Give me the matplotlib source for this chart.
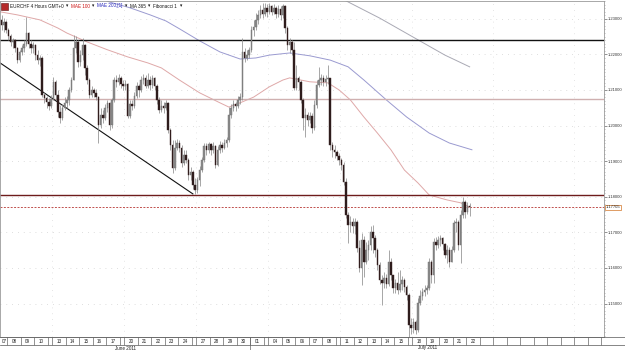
import numpy as np
import matplotlib.pyplot as plt
from matplotlib.patches import Rectangle
from matplotlib.ticker import MultipleLocator

plt.rcParams['font.family'] = ['Liberation Sans', 'DejaVu Sans']

# EURCHF 4 hour candles, 7 June - 22 July 2011
# candle slot 0 = first 4h candle of 7 June, sundays hold 2 candles
first_slot = 3
first_open = 1.2297
close = [
    1.2283, 1.2291, 1.2269, 1.2252, 1.2235, 1.2241, 1.2218, 1.2184, 1.2207, 1.2218,
    1.2229, 1.2260, 1.2229, 1.2218, 1.2227, 1.2198, 1.2184, 1.2190, 1.2086, 1.2078,
    1.2066, 1.2055, 1.2075, 1.2123, 1.2086, 1.2038, 1.2021, 1.2050, 1.2064, 1.2072,
    1.2100, 1.2128, 1.2218, 1.2235, 1.2179, 1.2198, 1.2227, 1.2162, 1.2128, 1.2086,
    1.2100, 1.2092, 1.2080, 1.2002, 1.2030, 1.2021, 1.2050, 1.2064, 1.2002, 1.2072,
    1.2128, 1.2123, 1.2134, 1.2117, 1.2111, 1.2117, 1.2027, 1.2061, 1.2055, 1.2083,
    1.2111, 1.2100, 1.2128, 1.2134, 1.2111, 1.2128, 1.2114, 1.2134, 1.2111, 1.2072,
    1.2044, 1.2055, 1.2050, 1.2064, 1.1988, 1.1946, 1.1881, 1.1937, 1.1951, 1.1937,
    1.1895, 1.1917, 1.1903, 1.1861, 1.1870, 1.1833, 1.1819, 1.1847, 1.1875, 1.1903,
    1.1943, 1.1932, 1.1948, 1.1932, 1.1943, 1.1889, 1.1932, 1.1946, 1.1937, 1.1951,
    1.1960, 1.2030, 1.2050, 1.2061, 1.2055, 1.2072, 1.2080, 1.2207, 1.2190, 1.2198,
    1.2213, 1.2269, 1.2277, 1.2297, 1.2311, 1.2325, 1.2314, 1.2331, 1.2319, 1.2336,
    1.2319, 1.2331, 1.2314, 1.2328, 1.2311, 1.2336, 1.2274, 1.2227, 1.2235, 1.2213,
    1.2106, 1.2134, 1.2123, 1.2072, 1.2021, 1.2030, 1.2016, 1.2027, 1.1993, 1.2058,
    1.2114, 1.2128, 1.2134, 1.2123, 1.2131, 1.2134, 1.1946, 1.1932, 1.1926, 1.1915,
    1.1903, 1.1889, 1.1842, 1.1749, 1.1721, 1.1729, 1.1718, 1.1729, 1.1656, 1.1600,
    1.1679, 1.1617, 1.1651, 1.1665, 1.1701, 1.1684, 1.1651, 1.1608, 1.1566, 1.1558,
    1.1572, 1.1555, 1.1617, 1.1580, 1.1544, 1.1558, 1.1538, 1.1555, 1.1566, 1.1546,
    1.1524, 1.1440, 1.1431, 1.1448, 1.1426, 1.1502, 1.1521, 1.1532, 1.1538, 1.1544,
    1.1617, 1.1580, 1.1673, 1.1665, 1.1679, 1.1684, 1.1667, 1.1636, 1.1651, 1.1617,
    1.1651, 1.1726, 1.1729, 1.1665, 1.1749, 1.1785, 1.1757, 1.1774, 1.17705,
]
high = [
    1.2311, 1.2302, 1.2297, 1.2274, 1.2257, 1.2246, 1.2243, 1.2221, 1.2213, 1.2227,
    1.2241, 1.2305, 1.2263, 1.2241, 1.2235, 1.2229, 1.2213, 1.2198, 1.2196, 1.2094,
    1.2083, 1.2078, 1.2086, 1.2137, 1.2128, 1.2100, 1.2058, 1.2061, 1.2080, 1.2083,
    1.2109, 1.2137, 1.2255, 1.2252, 1.2241, 1.2213, 1.2246, 1.2229, 1.2170, 1.2134,
    1.2111, 1.2106, 1.2103, 1.2083, 1.2050, 1.2044, 1.2061, 1.2072, 1.2066, 1.2078,
    1.2137, 1.2142, 1.2145, 1.2139, 1.2128, 1.2128, 1.2120, 1.2072, 1.2072, 1.2094,
    1.2123, 1.2117, 1.2139, 1.2145, 1.2142, 1.2148, 1.2139, 1.2142, 1.2137, 1.2117,
    1.2080, 1.2072, 1.2066, 1.2072, 1.2066, 1.1993, 1.1960, 1.1960, 1.1962, 1.1960,
    1.1946, 1.1932, 1.1932, 1.1909, 1.1884, 1.1875, 1.1853, 1.1856, 1.1887, 1.1912,
    1.1951, 1.1951, 1.1954, 1.1951, 1.1954, 1.1946, 1.1943, 1.1957, 1.1954, 1.1962,
    1.1968, 1.2052, 1.2061, 1.2072, 1.2066, 1.2083, 1.2092, 1.2246, 1.2218, 1.2213,
    1.2221, 1.2280, 1.2297, 1.2316, 1.2325, 1.2339, 1.2345, 1.2345, 1.2342, 1.2345,
    1.2339, 1.2342, 1.2336, 1.2339, 1.2336, 1.2342, 1.2339, 1.2280, 1.2246, 1.2241,
    1.2235, 1.2170, 1.2139, 1.2128, 1.2078, 1.2050, 1.2038, 1.2038, 1.2035, 1.2072,
    1.2128, 1.2165, 1.2145, 1.2142, 1.2142, 1.2170, 1.2134, 1.1954, 1.1946, 1.1932,
    1.1923, 1.1909, 1.1898, 1.1853, 1.1757, 1.1746, 1.1740, 1.1740, 1.1735, 1.1679,
    1.1698, 1.1690, 1.1673, 1.1679, 1.1718, 1.1721, 1.1693, 1.1656, 1.1617, 1.1580,
    1.1589, 1.1583, 1.1651, 1.1628, 1.1577, 1.1569, 1.1589, 1.1594, 1.1577, 1.1572,
    1.1552, 1.1530, 1.1459, 1.1459, 1.1454, 1.1516, 1.1538, 1.1544, 1.1552, 1.1552,
    1.1628, 1.1622, 1.1684, 1.1687, 1.1690, 1.1693, 1.1687, 1.1670, 1.1665, 1.1659,
    1.1662, 1.1735, 1.1740, 1.1735, 1.1763, 1.1799, 1.1791, 1.1785, 1.1783,
]
low = [
    1.2269, 1.2263, 1.2260, 1.2241, 1.2224, 1.2218, 1.2207, 1.2176, 1.2179, 1.2198,
    1.2207, 1.2224, 1.2218, 1.2204, 1.2204, 1.2184, 1.2173, 1.2168, 1.2080, 1.2064,
    1.2050, 1.2044, 1.2050, 1.2072, 1.2072, 1.2024, 1.2007, 1.2016, 1.2044, 1.2050,
    1.2058, 1.2094, 1.2128, 1.2204, 1.2165, 1.2168, 1.2184, 1.2142, 1.2117, 1.2078,
    1.2080, 1.2080, 1.2072, 1.1951, 1.1993, 1.2007, 1.2016, 1.2038, 1.1988, 1.1993,
    1.2066, 1.2109, 1.2114, 1.2106, 1.2100, 1.2100, 1.2021, 1.2021, 1.2044, 1.2050,
    1.2078, 1.2080, 1.2094, 1.2117, 1.2106, 1.2106, 1.2100, 1.2106, 1.2100, 1.2061,
    1.2035, 1.2038, 1.2035, 1.2044, 1.1979, 1.1932, 1.1867, 1.1875, 1.1932, 1.1926,
    1.1884, 1.1889, 1.1895, 1.1847, 1.1847, 1.1822, 1.1808, 1.1811, 1.1830, 1.1870,
    1.1898, 1.1917, 1.1923, 1.1917, 1.1923, 1.1881, 1.1887, 1.1923, 1.1926, 1.1934,
    1.1940, 1.1954, 1.2021, 1.2041, 1.2041, 1.2050, 1.2061, 1.2072, 1.2179, 1.2184,
    1.2190, 1.2207, 1.2252, 1.2269, 1.2286, 1.2302, 1.2302, 1.2308, 1.2305, 1.2314,
    1.2311, 1.2314, 1.2302, 1.2305, 1.2297, 1.2302, 1.2260, 1.2213, 1.2204, 1.2198,
    1.2100, 1.2100, 1.2100, 1.2064, 1.1988, 1.1968, 1.1999, 1.2007, 1.1979, 1.1988,
    1.2050, 1.2109, 1.2114, 1.2111, 1.2111, 1.2117, 1.1932, 1.1912, 1.1909, 1.1903,
    1.1889, 1.1875, 1.1833, 1.1740, 1.1670, 1.1701, 1.1698, 1.1695, 1.1645, 1.1589,
    1.1552, 1.1575, 1.1611, 1.1622, 1.1651, 1.1642, 1.1631, 1.1594, 1.1555, 1.1496,
    1.1544, 1.1544, 1.1549, 1.1566, 1.1530, 1.1530, 1.1527, 1.1532, 1.1538, 1.1532,
    1.1510, 1.1406, 1.1414, 1.1417, 1.1414, 1.1420, 1.1496, 1.1510, 1.1521, 1.1527,
    1.1538, 1.1558, 1.1558, 1.1651, 1.1656, 1.1662, 1.1651, 1.1628, 1.1614, 1.1603,
    1.1636, 1.1645, 1.1701, 1.1651, 1.1614, 1.1740, 1.1740, 1.1752, 1.1746,
]

# time axis cells (candles per day), empty label = sunday open / future day
day_labels = ['07', '08', '09', '10', '',
              '13', '14', '15', '16', '17', '',
              '20', '21', '22', '23', '24', '',
              '27', '28', '29', '30', '01', '',
              '04', '05', '06', '07', '08', '',
              '11', '12', '13', '14', '15', '',
              '18', '19', '20', '21', '22'] + [''] * 10
day_len = [6, 6, 6, 6, 2,
           6, 6, 6, 6, 6, 2,
           6, 6, 6, 6, 6, 2,
           6, 6, 6, 6, 6, 2,
           6, 6, 6, 6, 6, 2,
           6, 6, 6, 6, 6, 2,
           6, 6, 6, 6, 6] + [6] * 10
month_labels = ['June 2011', 'July 2011']
month_first_day = [0, 21]

# indicators as drawn on the chart (slot, price)
mae100_slot = [2, 10, 20, 28, 32, 41, 50, 59, 68, 74, 82, 91, 100, 104, 109, 115, 122,
               128, 131, 140, 148, 153, 158, 164, 170, 176, 182, 188, 193, 201, 207, 211]
mae100 = [1.2320, 1.2311, 1.2297, 1.2274, 1.2260, 1.2235, 1.2213, 1.2193, 1.2176, 1.2162,
          1.2128, 1.2092, 1.2064, 1.2052, 1.2064, 1.2080, 1.2109, 1.2128, 1.2134, 1.2123,
          1.2120, 1.2100, 1.2072, 1.2024, 1.1979, 1.1932, 1.1875, 1.1839, 1.1805, 1.1791,
          1.1783, 1.1771]
mae200_slot = [45, 51, 60, 69, 76, 82, 91, 100, 109, 116, 122, 131, 140, 149, 157, 164,
               174, 183, 193, 202, 212]
mae200 = [1.2362, 1.2347, 1.2331, 1.2311, 1.2294, 1.2272, 1.2238, 1.2207, 1.2187, 1.2190,
          1.2198, 1.2204, 1.2196, 1.2184, 1.2165, 1.2128, 1.2072, 1.2024, 1.1979, 1.1951,
          1.1932]
ma365_slot = [150, 171, 188, 200, 211]
ma365 = [1.2370, 1.2302, 1.2241, 1.2198, 1.2165]

fib_levels = [1.2240, 1.2074, 1.1805]
fib_colors = ['#111111', '#cfb0b0', '#6e1c1c']
trend_slot = [0, 88]
trend_price = [1.2186, 1.1808]
last_price = 1.17705
price_ticks = [1.15, 1.16, 1.17, 1.18, 1.19, 1.20, 1.21, 1.22, 1.23]

# ---------------------------------------------------------------
W, H = 625, 350
fig = plt.figure(figsize=(W / 100, H / 100), dpi=100)
ax = fig.add_axes([0, 13 / H, 604 / W, 336 / H])
ax_t = fig.add_axes([0, 0, 604 / W, 13 / H])
xlim = (2.28, 270.7)

o = np.array([first_open] + close[:-1])
c = np.array(close)
hi = np.maximum(np.array(high), np.maximum(o, c))
lo = np.minimum(np.array(low), np.minimum(o, c))
x = np.arange(first_slot, first_slot + len(c))
up = c >= o
bottom = np.minimum(o, c)
body = np.maximum(np.abs(c - o), 0.00012)

bounds = np.cumsum([0] + day_len) - 0.5

# faint dotted grid
for p in price_ticks:
    ax.axhline(p, color='#d4d4d4', lw=0.6, ls=(0, (1, 6)), zorder=0)
for b in bounds[5::6]:
    ax.axvline(b, color='#dcdcdc', lw=0.6, ls=(0, (1, 6)), zorder=0)

ax.plot(ma365_slot, ma365, color='#a9a9b4', lw=0.7, zorder=1)
ax.plot(mae200_slot, mae200, color='#9a9ad0', lw=0.7, zorder=1)
ax.plot(mae100_slot, mae100, color='#dfa8a8', lw=0.7, zorder=1)

for lvl, col in zip(fib_levels, fib_colors):
    ax.axhline(lvl, color=col, lw=1.0, zorder=2)
ax.axhline(last_price, color='#c0504d', lw=0.7, ls=(0, (2, 1.5)), zorder=2)
ax.plot(trend_slot, trend_price, color='#111111', lw=0.8, zorder=2)

ax.vlines(x, lo, hi, color='#8e8e8e', lw=0.55, zorder=3)
ax.bar(x[up], body[up], bottom=bottom[up], width=0.62, color='#8c8c8c',
       edgecolor='#6e6e6e', lw=0.3, zorder=4)
ax.bar(x[~up], body[~up], bottom=bottom[~up], width=0.62, color='#2b1b1b',
       edgecolor='#3a2222', lw=0.3, zorder=4)

ax.set_xlim(*xlim)
ax.set_ylim(1.1406, 1.2350)
ax.set_xticks([])
ax.yaxis.tick_right()
ax.set_yticks(price_ticks)
ax.set_yticklabels([f'{p:.5f}' for p in price_ticks], fontsize=3.0, color='#333333')
ax.yaxis.set_minor_locator(MultipleLocator(0.001))
ax.tick_params(axis='y', which='major', length=1.8, width=0.5, pad=0.6, color='#666666')
ax.tick_params(axis='y', which='minor', length=1.0, width=0.4, color='#888888')
for s in ax.spines.values():
    s.set_color('#9a9a9a')
    s.set_linewidth(0.6)

ax.text(1.003, last_price, f'{last_price:.5f}', transform=ax.get_yaxis_transform(),
        fontsize=3.0, va='center', ha='left', color='#222222',
        bbox=dict(boxstyle='square,pad=0.15', fc='white', ec='#d98c4a', lw=0.6))

# time axis rows
ax_t.set_xlim(*xlim)
ax_t.set_ylim(0, 13)
ax_t.axis('off')
right_edge = (W + 5.125) / 2.25
for yy in (5, 12.7):
    ax_t.plot([xlim[0], right_edge], [yy, yy], color='#555555', lw=0.5, clip_on=False)
ax_t.vlines(bounds, 5, 13, color='#666666', lw=0.5)
for lab, b0, b1 in zip(day_labels, bounds[:-1], bounds[1:]):
    if lab:
        # centre on the visible part of the cell
        ax_t.text((max(b0, xlim[0] + 0.3) + b1) / 2, 8.8, lab, ha='center', va='center',
                  fontsize=3.3, color='#222222')
month_edges = [bounds[i] for i in month_first_day] + [xlim[1]]
ax_t.vlines(month_edges[1], 0, 13, color='#666666', lw=0.5)
for lab, m0, m1 in zip(month_labels, month_edges[:-1], month_edges[1:]):
    m0 = max(m0, xlim[0])
    ax_t.text((m0 + m1) / 2, 2.0, lab, ha='center', va='center', fontsize=3.3,
              color='#222222')

# header line: each item placed after the previous one
fig.add_artist(Rectangle((1 / W, 1 - 10 / H), 7 / W, 7 / H, transform=fig.transFigure,
                         fc='#b52a2a', ec='#5a1010', lw=0.4))
header = [(10, 'EURCHF 4 Hours GMT+0', '#111111'), (64, '\u25be', '#111111'),
          (71, 'MAE 100', '#cc1111'), (91, '\u25be', '#111111'),
          (96, 'MAE 200,[1]', '#2222bb'), (119, '\u25be', '#111111'),
          (125, 'MA 365', '#111111'), (143, '\u25be', '#111111'),
          (148, 'Fibonacci 1', '#111111'), (170, '\u25be', '#111111')]
renderer = fig.canvas.get_renderer()
next_px = 0
for px, txt, col in header:
    px = max(px, next_px)
    t = fig.text(px / W, 1 - 6 / H, txt, fontsize=3.3, color=col, va='center', ha='left')
    next_px = t.get_window_extent(renderer).x1 + 2.5

fig.savefig('out.png', dpi=100, facecolor='white')
